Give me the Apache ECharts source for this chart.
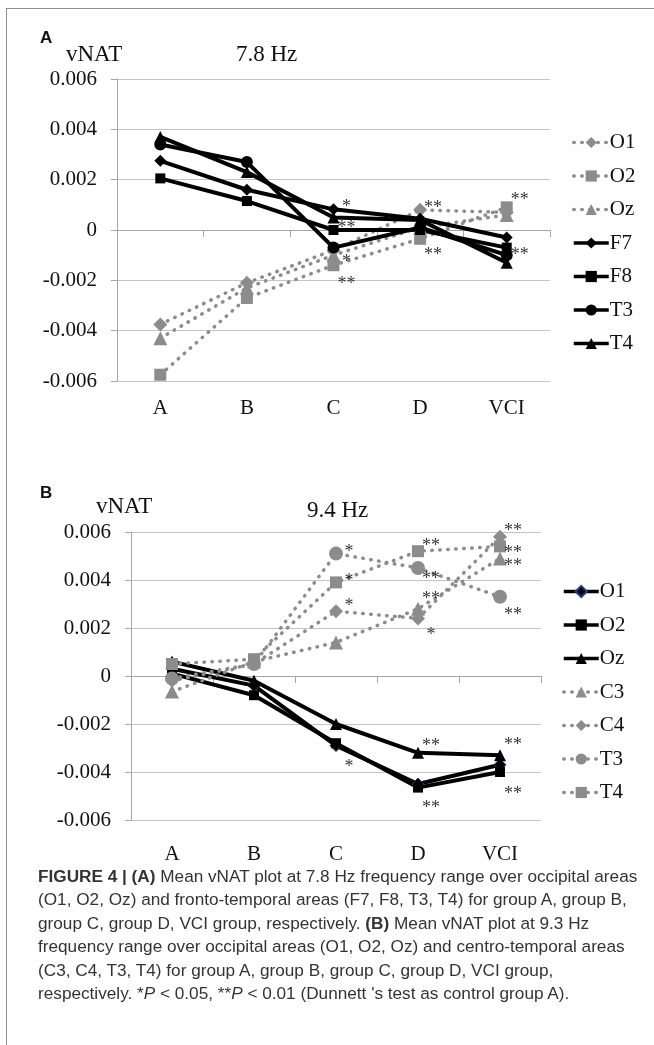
<!DOCTYPE html>
<html><head><meta charset="utf-8">
<script src="https://cdn.jsdelivr.net/npm/echarts@6/dist/echarts.min.js"></script>
<style>
html,body{margin:0;padding:0;background:#fff;}
#wrap{position:relative;width:654px;height:1045px;overflow:hidden;background:#fff;}
#frame{position:absolute;left:6px;top:8px;width:700px;height:1100px;border-top:1.5px solid #8f8f8f;border-left:1.5px solid #8f8f8f;}
#chart{position:absolute;left:0;top:0;width:654px;height:866px;}
#cap{position:absolute;left:38px;top:865px;font-family:"Liberation Sans",Arial,sans-serif;font-size:17.2px;line-height:23.4px;color:#333;white-space:nowrap;}
</style></head>
<body><div id="wrap"><div id="frame"></div><div id="chart"></div>
<div id="cap"><b>FIGURE 4 | (A)</b> Mean vNAT plot at 7.8 Hz frequency range over occipital areas<br>(O1, O2, Oz) and fronto-temporal areas (F7, F8, T3, T4) for group A, group B,<br>group C, group D, VCI group, respectively. <b>(B)</b> Mean vNAT plot at 9.3 Hz<br>frequency range over occipital areas (O1, O2, Oz) and centro-temporal areas<br>(C3, C4, T3, T4) for group A, group B, group C, group D, VCI group,<br>respectively. *<i>P</i> &lt; 0.05, **<i>P</i> &lt; 0.01 (Dunnett 's test as control group A).</div>
</div>
<script>
// ---- data ----
const categories = ['A', 'B', 'C', 'D', 'VCI'];
const yTickLabels = ['-0.006', '-0.004', '-0.002', '0', '0.002', '0.004', '0.006'];

// Panel A: 7.8 Hz
const a_O1 = [-0.00375, -0.0021, -0.0008, 0.0008, 0.0007];
const a_O2 = [-0.00575, -0.0027, -0.0014, -0.00035, 0.0009];
const a_Oz = [-0.0043, -0.0023, -0.0010, 0.0001, 0.0006];
const a_F7 = [0.00275, 0.0016, 0.00082, 0.00045, -0.0003];
const a_F8 = [0.00205, 0.00115, 0.0000, 0.0000, -0.0007];
const a_T3 = [0.0034, 0.0027, -0.0007, 0.0001, -0.0010];
const a_T4 = [0.0037, 0.0023, 0.0005, 0.0004, -0.0013];
const starsA = [
  ['C', 0.00108, '*'], ['C', 0.00024, '**'], ['C', -0.00112, '*'], ['C', -0.0020, '**'],
  ['D', 0.00104, '**'], ['D', -0.00084, '**'],
  ['VCI', 0.00136, '**'], ['VCI', -0.00084, '**']
];

// Panel B: 9.4 Hz
const b_O1 = [0.0003, -0.0004, -0.0029, -0.0045, -0.0037];
const b_O2 = [0.0001, -0.0008, -0.0028, -0.00465, -0.0040];
const b_Oz = [0.0006, -0.0002, -0.0020, -0.0032, -0.0033];
const b_C3 = [-0.00065, 0.0006, 0.0014, 0.0028, 0.0049];
const b_C4 = [-0.0002, 0.0005, 0.0027, 0.0024, 0.0058];
const b_T3 = [-0.0001, 0.0005, 0.0051, 0.0045, 0.0033];
const b_T4 = [0.0005, 0.0007, 0.0039, 0.0052, 0.0054];
const starsB = [
  ['C', 0.00533, '*'], ['C', 0.00413, '*'], ['C', 0.00308, '*'], ['C', -0.00363, '*'],
  ['D', 0.00558, '**'], ['D', 0.00421, '**'], ['D', 0.00338, '**'], ['D', 0.00188, '*'],
  ['D', -0.00275, '**'], ['D', -0.00533, '**'],
  ['VCI', 0.00621, '**'], ['VCI', 0.00529, '**'], ['VCI', 0.00475, '**'], ['VCI', 0.00271, '**'],
  ['VCI', -0.00271, '**'], ['VCI', -0.00475, '**']
];

// ---- styles ----
const SERIF = '"Liberation Serif", "Times New Roman", serif';
const BLACK = '#000000';
const GRAY = '#8c8c8c';
const AXIS = '#a6a6a6';
const symbols = {
  diamond: ['diamond', 12], rect: ['rect', 10], circle: ['circle', 12], triangle: ['triangle', 12]
};
function line(panel, name, data, shape, dotted, extraItem) {
  const col = dotted ? GRAY : BLACK;
  const [sym, size] = symbols[shape];
  return {
    type: 'line', name: panel + ':' + name, data: data,
    xAxisIndex: panel === 'A' ? 0 : 2, yAxisIndex: panel === 'A' ? 0 : 1,
    symbol: sym, symbolSize: dotted ? size + 2 : size, showSymbol: true,
    lineStyle: dotted ? { color: col, width: 3.5, type: [0.5, 7.5], cap: 'round' }
                      : { color: col, width: 4 },
    itemStyle: Object.assign({ color: col }, extraItem || {}),
    emphasis: { disabled: true }, animation: false
  };
}
function stars(panel, list) {
  return {
    type: 'scatter', name: panel + ':stars', data: list,
    xAxisIndex: panel === 'A' ? 0 : 2, yAxisIndex: panel === 'A' ? 0 : 1,
    symbol: 'circle', symbolSize: 2, itemStyle: { color: 'rgba(0,0,0,0)' }, clip: false, silent: true, z: 5,
    label: { show: true, position: 'inside', offset: [13, 4], formatter: p => p.data[2],
             fontFamily: SERIF, fontSize: 18, color: '#000' },
    emphasis: { disabled: true }, animation: false
  };
}
function yAxis(gi) {
  return {
    gridIndex: gi, type: 'value', min: -0.006, max: 0.006, interval: 0.002,
    axisLine: { show: true, lineStyle: { color: AXIS, width: 1 } },
    axisTick: { show: true, length: 6, lineStyle: { color: AXIS } },
    splitLine: { show: true, lineStyle: { color: '#c4c4c4', width: 1 } },
    axisLabel: { margin: 20, fontFamily: SERIF, fontSize: 21, color: '#111',
                 formatter: (v, i) => yTickLabels[i] }
  };
}
function xAxes(gi, labelMargin) {
  return [
    { gridIndex: gi, type: 'category', data: categories, position: 'bottom',
      axisLine: { show: false, onZero: false }, axisTick: { show: false },
      axisLabel: { margin: labelMargin, fontFamily: SERIF, fontSize: 21, color: '#111' } },
    { gridIndex: gi, type: 'category', data: categories, position: 'top',
      axisLine: { show: true, onZero: true, lineStyle: { color: AXIS, width: 1 } },
      axisTick: { show: true, inside: true, length: 7, lineStyle: { color: AXIS } },
      axisLabel: { show: false } }
  ];
}
const legendText = { fontFamily: SERIF, fontSize: 21, color: '#111', padding: [0, 0, 0, -4] };
function legend(panel, names, top, left) {
  return {
    orient: 'vertical', left: left, top: top, itemGap: 12.5, itemWidth: 35, itemHeight: 14,
    data: names.map(n => panel + ':' + n), formatter: n => n.split(':')[1],
    lineStyle: { width: 3.5 },
    textStyle: legendText, selectedMode: false, padding: 0
  };
}

const chart = echarts.init(document.getElementById('chart'), null, { renderer: 'canvas' });
chart.setOption({
  animation: false,
  backgroundColor: 'transparent',
  title: [
    { text: 'A', left: 35, top: 25, textStyle: { fontFamily: '"Liberation Sans", Arial, sans-serif', fontWeight: 'bold', fontSize: 17, color: '#111' } },
    { text: 'vNAT', left: 61, top: 38, textStyle: { fontFamily: SERIF, fontWeight: 'normal', fontSize: 23, color: '#111' } },
    { text: '7.8 Hz', left: 231, top: 38, textStyle: { fontFamily: SERIF, fontWeight: 'normal', fontSize: 23, color: '#111' } },
    { text: 'B', left: 35, top: 480, textStyle: { fontFamily: '"Liberation Sans", Arial, sans-serif', fontWeight: 'bold', fontSize: 17, color: '#111' } },
    { text: 'vNAT', left: 91, top: 490, textStyle: { fontFamily: SERIF, fontWeight: 'normal', fontSize: 23, color: '#111' } },
    { text: '9.4 Hz', left: 302, top: 494, textStyle: { fontFamily: SERIF, fontWeight: 'normal', fontSize: 23, color: '#111' } }
  ],
  grid: [
    { left: 117, top: 79, width: 433, height: 302 },
    { left: 131, top: 532, width: 410, height: 288 }
  ],
  xAxis: [].concat(xAxes(0, 17), xAxes(1, 24)),
  yAxis: [yAxis(0), yAxis(1)],
  legend: [
    legend('A', ['O1', 'O2', 'Oz', 'F7', 'F8', 'T3', 'T4'], 132, 572),
    legend('B', ['O1', 'O2', 'Oz', 'C3', 'C4', 'T3', 'T4'], 581, 562)
  ],
  series: [
    line('A', 'O1', a_O1, 'diamond', true),
    line('A', 'O2', a_O2, 'rect', true),
    line('A', 'Oz', a_Oz, 'triangle', true),
    line('A', 'F7', a_F7, 'diamond', false),
    line('A', 'F8', a_F8, 'rect', false),
    line('A', 'T3', a_T3, 'circle', false),
    line('A', 'T4', a_T4, 'triangle', false),
    stars('A', starsA),
    line('B', 'O1', b_O1, 'diamond', false, { borderColor: '#1d3d8c', borderWidth: 1 }),
    line('B', 'O2', b_O2, 'rect', false),
    line('B', 'Oz', b_Oz, 'triangle', false),
    line('B', 'C3', b_C3, 'triangle', true),
    line('B', 'C4', b_C4, 'diamond', true),
    line('B', 'T3', b_T3, 'circle', true),
    line('B', 'T4', b_T4, 'rect', true),
    stars('B', starsB)
  ]
});
</script></body></html>
